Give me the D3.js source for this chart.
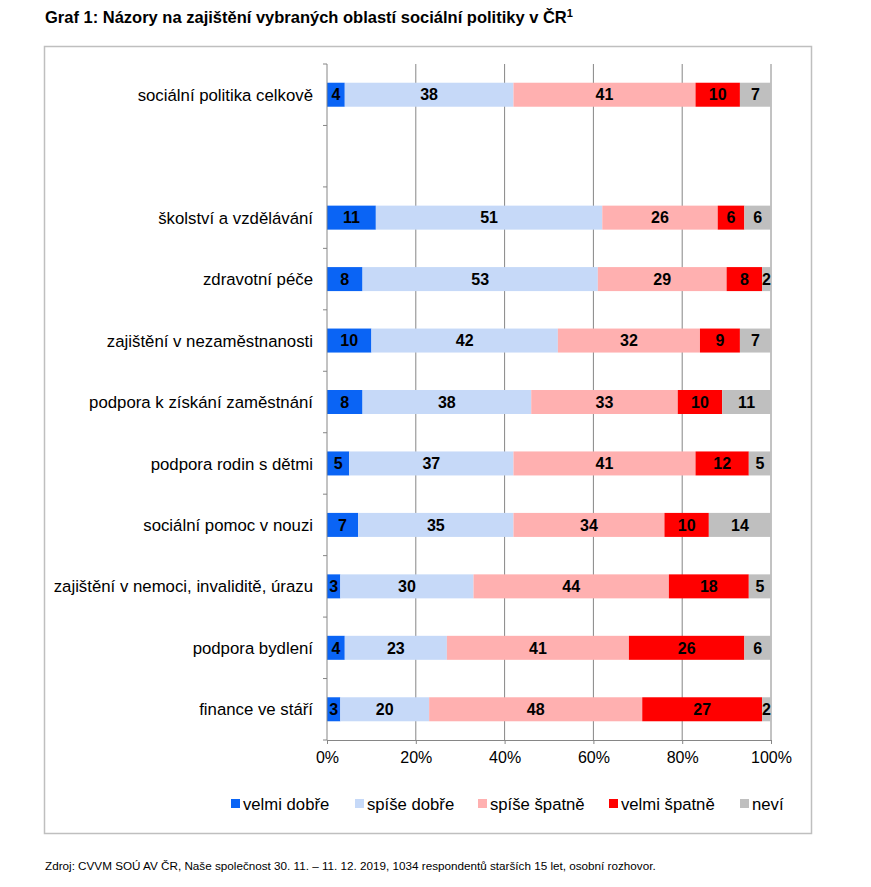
<!DOCTYPE html>
<html>
<head>
<meta charset="utf-8">
<script src="https://d3js.org/d3.v7.min.js"></script>
<style>
  body { margin: 0; background: #fff; }
  text { font-family: "Liberation Sans", Arial, sans-serif; }
</style>
</head>
<body>
<div id="chart"></div>
<script>
// categories, top to bottom ("" is the empty gap row)
let categories = [
    "sociální politika celkově",
    "",
    "školství a vzdělávání",
    "zdravotní péče",
    "zajištění v nezaměstnanosti",
    "podpora k získání zaměstnání",
    "podpora rodin s dětmi",
    "sociální pomoc v nouzi",
    "zajištění v nemoci, invaliditě, úrazu",
    "podpora bydlení",
    "finance ve stáří"
];

let seriesNames = ["velmi dobře", "spíše dobře", "spíše špatně", "velmi špatně", "neví"];
let seriesColors = ["#0a64f5", "#c6d9f8", "#ffb0b0", "#ff0000", "#bfbfbf"];

// values per series, in category order (null for the gap row)
let velmiDobre  = [4,  null, 11, 8,  10, 8,  5,  7,  3,  4,  3];
let spiseDobre  = [38, null, 51, 53, 42, 38, 37, 35, 30, 23, 20];
let spiseSpatne = [41, null, 26, 29, 32, 33, 41, 34, 44, 41, 48];
let velmiSpatne = [10, null, 6,  8,  9,  10, 12, 10, 18, 26, 27];
let nevi        = [7,  null, 6,  2,  7,  11, 5,  14, 5,  6,  2];

let xTicks = [0, 20, 40, 60, 80, 100];

let titleText = "Graf 1: Názory na zajištění vybraných oblastí sociální politiky v ČR";
let sourceText = "Zdroj: CVVM SOÚ AV ČR, Naše společnost 30. 11. – 11. 12. 2019, 1034 respondentů starších 15 let, osobní rozhovor.";

let svgWidth = 871;
let svgHeight = 887;

let margin = { top: 64, left: 327, right: 100, bottom: 147 };
let width = svgWidth - margin.left - margin.right;
let height = svgHeight - margin.top - margin.bottom;

let svg = d3.select("#chart")
    .append("svg")
    .attr("width", svgWidth)
    .attr("height", svgHeight);

// title
let title = svg.append("text")
    .attr("x", 45)
    .attr("y", 23)
    .attr("font-family", "'Liberation Sans Narrow', 'Arial Narrow', sans-serif")
    .attr("font-weight", "bold")
    .attr("font-size", 16.5)
    .attr("fill", "#000")
    .text(titleText);
title.append("tspan")
    .attr("dy", -6)
    .attr("font-size", 11)
    .text("1");

// outer frame
svg.append("rect")
    .attr("x", 44.5)
    .attr("y", 46.5)
    .attr("width", 767)
    .attr("height", 787)
    .attr("fill", "none")
    .attr("stroke", "#bfbfbf")
    .attr("stroke-width", 1.5);

let chartGroup = svg.append("g")
    .attr("transform", `translate(${margin.left}, ${margin.top})`);

let x = d3.scaleLinear().domain([0, 100]).range([0, width]);
let y = d3.scaleBand().domain(categories.map((c, i) => i)).range([0, height]).paddingInner(0);

// gridlines
chartGroup.append("g")
    .selectAll("line")
    .data(xTicks.slice(1))
    .enter()
    .append("line")
    .attr("x1", d => x(d))
    .attr("x2", d => x(d))
    .attr("y1", 0)
    .attr("y2", height)
    .attr("stroke", "#868686")
    .attr("stroke-width", 1);

// stacked data
let rows = categories.map((c, i) => ({
    i: i,
    name: c,
    values: [velmiDobre[i], spiseDobre[i], spiseSpatne[i], velmiSpatne[i], nevi[i]]
})).filter(r => r.name !== "");

let segments = [];
rows.forEach(r => {
    let acc = 0;
    r.values.forEach((v, k) => {
        segments.push({ i: r.i, k: k, v: v, x0: acc, x1: acc + v });
        acc += v;
    });
});

let barH = 24;

chartGroup.append("g")
    .selectAll("rect")
    .data(segments)
    .enter()
    .append("rect")
    .attr("x", d => x(d.x0))
    .attr("width", d => x(d.x1) - x(d.x0))
    .attr("y", d => y(d.i) + y.bandwidth() / 2 - barH / 2)
    .attr("height", barH)
    .attr("fill", d => seriesColors[d.k]);

chartGroup.append("g")
    .selectAll("text")
    .data(segments)
    .enter()
    .append("text")
    .attr("x", d => x((d.x0 + d.x1) / 2))
    .attr("y", d => y(d.i) + y.bandwidth() / 2)
    .attr("dy", "0.36em")
    .attr("text-anchor", "middle")
    .attr("font-weight", "bold")
    .attr("font-size", 16)
    .attr("fill", "#000")
    .text(d => d.v);

// y axis: line and ticks at band boundaries
let yAxis = chartGroup.append("g");
yAxis.append("line")
    .attr("x1", 0).attr("x2", 0)
    .attr("y1", 0).attr("y2", height)
    .attr("stroke", "#868686");
yAxis.selectAll("line.tick")
    .data(d3.range(categories.length + 1))
    .enter()
    .append("line")
    .attr("class", "tick")
    .attr("x1", -4).attr("x2", 0)
    .attr("y1", d => d * y.step())
    .attr("y2", d => d * y.step())
    .attr("stroke", "#868686");

yAxis.selectAll("text")
    .data(rows)
    .enter()
    .append("text")
    .attr("x", -14)
    .attr("y", d => y(d.i) + y.bandwidth() / 2)
    .attr("dy", "0.36em")
    .attr("text-anchor", "end")
    .attr("font-size", 16.8)
    .attr("fill", "#000")
    .text(d => d.name);

// x axis
let bottomAxis = d3.axisBottom(x)
    .tickValues(xTicks)
    .tickFormat(d => d + "%")
    .tickSize(4)
    .tickPadding(8);

let xAxisG = chartGroup.append("g")
    .attr("transform", `translate(0, ${height})`)
    .call(bottomAxis);
xAxisG.select(".domain").attr("stroke", "#868686");
xAxisG.selectAll(".tick line").attr("stroke", "#868686");
xAxisG.selectAll(".tick text")
    .attr("font-family", "'Liberation Sans', Arial, sans-serif")
    .attr("font-size", 16)
    .attr("fill", "#000");

// legend
let legendX = [231, 355, 478, 609, 740];
let legend = svg.append("g")
    .attr("transform", "translate(0, 804)");
let items = legend.selectAll("g")
    .data(seriesNames)
    .enter()
    .append("g")
    .attr("transform", (d, k) => `translate(${legendX[k]}, 0)`);
items.append("rect")
    .attr("x", 0)
    .attr("y", -5)
    .attr("width", 9)
    .attr("height", 9)
    .attr("fill", (d, k) => seriesColors[k]);
items.append("text")
    .attr("x", 12)
    .attr("y", 0)
    .attr("dy", "0.36em")
    .attr("font-size", 16.7)
    .attr("fill", "#000")
    .text(d => d);

// source
svg.append("text")
    .attr("x", 45)
    .attr("y", 870)
    .attr("font-size", 11.7)
    .attr("fill", "#000")
    .text(sourceText);
</script>
</body>
</html>
